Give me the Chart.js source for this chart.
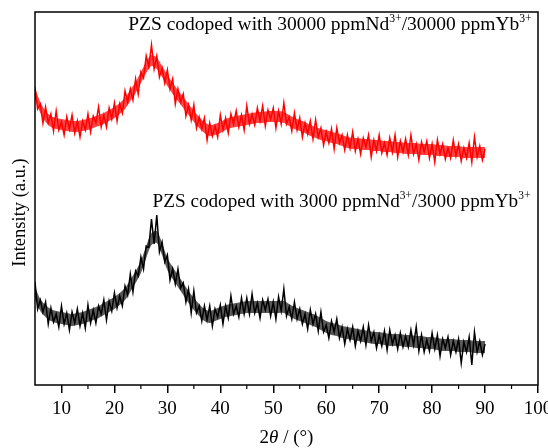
<!DOCTYPE html>
<html>
<head>
<meta charset="utf-8">
<script src="https://cdn.jsdelivr.net/npm/chart.js@4/dist/chart.umd.min.js"></script>
<style>
  html, body { margin: 0; padding: 0; background: #fff; }
  #wrap { width: 548px; height: 448px; }
</style>
</head>
<body>
<div id="wrap"><canvas id="xrd"></canvas></div>
<script>
// 2θ sampling (degrees), 0.5° apart
const twoTheta = [
  5, 5.5, 6, 6.5, 7, 7.5, 8, 8.5, 9, 9.5, 10, 10.5, 11, 11.5, 12, 12.5, 13, 13.5, 14, 14.5,
  15, 15.5, 16, 16.5, 17, 17.5, 18, 18.5, 19, 19.5, 20, 20.5, 21, 21.5, 22, 22.5, 23, 23.5, 24, 24.5,
  25, 25.5, 26, 26.5, 27, 27.5, 28, 28.5, 29, 29.5, 30, 30.5, 31, 31.5, 32, 32.5, 33, 33.5, 34, 34.5,
  35, 35.5, 36, 36.5, 37, 37.5, 38, 38.5, 39, 39.5, 40, 40.5, 41, 41.5, 42, 42.5, 43, 43.5, 44, 44.5,
  45, 45.5, 46, 46.5, 47, 47.5, 48, 48.5, 49, 49.5, 50, 50.5, 51, 51.5, 52, 52.5, 53, 53.5, 54, 54.5,
  55, 55.5, 56, 56.5, 57, 57.5, 58, 58.5, 59, 59.5, 60, 60.5, 61, 61.5, 62, 62.5, 63, 63.5, 64, 64.5,
  65, 65.5, 66, 66.5, 67, 67.5, 68, 68.5, 69, 69.5, 70, 70.5, 71, 71.5, 72, 72.5, 73, 73.5, 74, 74.5,
  75, 75.5, 76, 76.5, 77, 77.5, 78, 78.5, 79, 79.5, 80, 80.5, 81, 81.5, 82, 82.5, 83, 83.5, 84, 84.5,
  85, 85.5, 86, 86.5, 87, 87.5, 88, 88.5, 89, 89.5, 90
];

// 30000 ppm Nd/Yb (red, offset upward) - spiky trace
const high30000 = [
  298, 276, 281, 262, 278, 262, 271, 254, 274, 255, 263, 250, 268, 256, 270, 252, 264, 248, 264, 255,
  271, 253, 269, 262, 278, 258, 270, 258, 277, 266, 282, 264, 281, 272, 294, 283, 296, 285, 306, 291,
  313, 307, 329, 318, 340, 316, 329, 308, 317, 302, 315, 296, 306, 281, 296, 283, 291, 269, 280, 265,
  280, 257, 268, 256, 267, 245, 262, 249, 259, 248, 270, 255, 267, 252, 271, 261, 274, 258, 270, 255,
  279, 261, 271, 260, 277, 264, 279, 259, 275, 266, 277, 257, 274, 261, 282, 261, 268, 254, 272, 255,
  267, 248, 262, 251, 264, 246, 265, 248, 257, 240, 253, 242, 256, 236, 257, 242, 250, 235, 250, 237,
  253, 234, 246, 231, 247, 238, 250, 228, 245, 234, 250, 232, 242, 230, 247, 233, 250, 228, 244, 233,
  246, 230, 250, 231, 241, 225, 243, 233, 244, 227, 241, 223, 245, 231, 241, 226, 237, 227, 245, 229,
  241, 224, 237, 227, 242, 223, 248, 228, 239, 225, 236
];

// 3000 ppm Nd/Yb (black) - spiky trace
const low3000 = [
  103, 76, 85, 73, 83, 61, 77, 63, 71, 58, 79, 61, 72, 55, 73, 62, 76, 59, 72, 57,
  80, 62, 75, 62, 79, 71, 85, 65, 84, 74, 92, 77, 89, 79, 99, 90, 111, 93, 114, 109,
  128, 116, 139, 138, 166, 141, 170, 133, 143, 123, 130, 105, 116, 101, 116, 97, 102, 83, 96, 72,
  94, 72, 79, 64, 79, 65, 79, 59, 76, 68, 80, 61, 79, 67, 89, 71, 79, 68, 87, 71,
  87, 71, 91, 72, 82, 67, 85, 75, 86, 69, 83, 66, 88, 74, 96, 69, 78, 66, 83, 66,
  76, 61, 71, 56, 75, 61, 71, 54, 73, 53, 60, 47, 64, 53, 66, 47, 58, 41, 56, 45,
  58, 39, 54, 44, 58, 40, 60, 44, 53, 37, 50, 39, 54, 35, 55, 41, 50, 36, 52, 38,
  49, 38, 55, 40, 58, 34, 50, 33, 45, 34, 52, 36, 50, 29, 46, 37, 48, 30, 44, 33,
  46, 22, 43, 33, 48, 20, 53, 33, 44, 30, 41
];

// dense core of each noisy trace, read every 1°
const bandTheta = [
  5, 6, 7, 8, 9, 10, 11, 12, 13, 14, 15, 16, 17, 18, 19, 20, 21, 22, 23, 24,
  25, 26, 27, 28, 29, 30, 31, 32, 33, 34, 35, 36, 37, 38, 39, 40, 41, 42, 43, 44,
  45, 46, 47, 48, 49, 50, 51, 52, 53, 54, 55, 56, 57, 58, 59, 60, 61, 62, 63, 64,
  65, 66, 67, 68, 69, 70, 71, 72, 73, 74, 75, 76, 77, 78, 79, 80, 81, 82, 83, 84,
  85, 86, 87, 88, 89, 90
];
const highCoreTop = [
  297, 283, 274, 269, 267, 266, 265, 264, 264, 265, 266, 268, 270, 272, 275, 278, 282, 287, 295, 303,
  313, 323, 330, 327, 319, 310, 302, 295, 288, 281, 274, 268, 263, 260, 261, 263, 266, 268, 269, 270,
  271, 272, 273, 273, 274, 274, 274, 273, 270, 267, 265, 263, 260, 258, 256, 255, 253, 252, 250, 248,
  247, 247, 246, 246, 245, 245, 244, 244, 243, 243, 242, 242, 242, 241, 241, 241, 240, 240, 239, 239,
  239, 238, 238, 238, 238, 238
];
const highCoreBottom = [
  286, 272, 263, 258, 256, 255, 254, 253, 253, 254, 255, 257, 259, 261, 264, 267, 271, 276, 284, 292,
  302, 312, 319, 316, 308, 299, 291, 284, 277, 270, 263, 257, 252, 249, 250, 252, 255, 257, 258, 259,
  260, 261, 262, 262, 263, 263, 263, 262, 259, 256, 254, 252, 249, 247, 245, 244, 242, 241, 239, 237,
  236, 236, 235, 235, 234, 234, 233, 233, 232, 232, 231, 231, 231, 230, 230, 230, 229, 229, 228, 228,
  228, 227, 227, 227, 227, 227
];
const lowCoreTop = [
  98, 86, 80, 76, 74, 73, 72, 71, 72, 73, 75, 77, 79, 82, 85, 88, 92, 97, 105, 114,
  124, 139, 152, 154, 142, 127, 118, 110, 102, 94, 87, 81, 76, 74, 76, 78, 80, 81, 82, 83,
  84, 84, 84, 84, 84, 84, 84, 84, 81, 78, 76, 74, 72, 70, 67, 64, 62, 61, 59, 58,
  57, 56, 55, 54, 53, 53, 52, 51, 51, 51, 50, 50, 49, 49, 48, 48, 47, 46, 46, 46,
  45, 45, 45, 44, 44, 44
];
const lowCoreBottom = [
  86, 74, 68, 64, 62, 61, 60, 59, 60, 61, 63, 65, 67, 70, 73, 76, 80, 85, 93, 102,
  112, 127, 140, 142, 130, 115, 106, 98, 90, 82, 75, 69, 64, 62, 64, 66, 68, 69, 70, 71,
  72, 72, 72, 72, 72, 72, 72, 72, 69, 66, 64, 62, 60, 58, 55, 52, 50, 49, 47, 46,
  45, 44, 43, 42, 41, 41, 40, 39, 39, 39, 38, 38, 37, 37, 36, 36, 35, 34, 34, 34,
  33, 33, 33, 32, 32, 32
];

const xTicks = [10, 20, 30, 40, 50, 60, 70, 80, 90, 100];
const xMinorTicks = [15, 25, 35, 45, 55, 65, 75, 85, 95];

const SERIF = '"Liberation Serif", "Times New Roman", serif';

// label text pieces: [text, isSuperscript]
const labelHigh = [['PZS codoped with 30000 ppmNd', false], ['3+', true], ['/30000 ppmYb', false], ['3+', true]];
const labelLow = [['PZS codoped with 3000 ppmNd', false], ['3+', true], ['/3000 ppmYb', false], ['3+', true]];
// anchor of each label in data units (2θ, intensity at baseline)
const labelHighAt = [22.6, 355];
const labelLowAt = [27.2, 178];

function drawRich(ctx, x, y, parts, size) {
  ctx.textBaseline = 'alphabetic';
  ctx.textAlign = 'left';
  for (const [t, sup] of parts) {
    ctx.font = (sup ? (size * 0.6).toFixed(1) : size) + 'px ' + SERIF;
    ctx.fillText(t, x, sup ? y - size * 0.42 : y);
    x += ctx.measureText(t).width;
  }
}

const framePlugin = {
  id: 'frame',
  afterDraw(chart) {
    const { ctx, chartArea: a, scales } = chart;
    ctx.save();
    ctx.strokeStyle = '#000';
    ctx.lineWidth = 1.5;
    ctx.strokeRect(a.left, a.top, a.right - a.left, a.bottom - a.top);

    // minor ticks
    ctx.lineWidth = 1.2;
    ctx.beginPath();
    xMinorTicks.forEach(v => {
      const px = scales.x.getPixelForValue(v);
      ctx.moveTo(px, a.bottom);
      ctx.lineTo(px, a.bottom + 4);
    });
    ctx.stroke();

    ctx.fillStyle = '#000';
    drawRich(ctx, scales.x.getPixelForValue(labelHighAt[0]), scales.y.getPixelForValue(labelHighAt[1]), labelHigh, 19.5);
    drawRich(ctx, scales.x.getPixelForValue(labelLowAt[0]), scales.y.getPixelForValue(labelLowAt[1]), labelLow, 19.2);

    // x title: 2θ / (°)
    const tParts = [['2', false], ['θ', true], [' / (°)', false]];
    let w = 0;
    tParts.forEach(([t, it]) => {
      ctx.font = (it ? 'italic ' : '') + '19px ' + SERIF;
      w += ctx.measureText(t).width;
    });
    let tx = (a.left + a.right) / 2 - w / 2;
    ctx.textBaseline = 'alphabetic';
    tParts.forEach(([t, it]) => {
      ctx.font = (it ? 'italic ' : '') + '19px ' + SERIF;
      ctx.fillText(t, tx, 443);
      tx += ctx.measureText(t).width;
    });

    // y title
    ctx.translate(20, (a.top + a.bottom) / 2 + 14);
    ctx.rotate(-Math.PI / 2);
    ctx.font = '18.5px ' + SERIF;
    ctx.textAlign = 'center';
    ctx.textBaseline = 'middle';
    ctx.fillText('Intensity (a.u.)', 0, 0);
    ctx.restore();
  }
};

const toPoints = (xs, ys) => xs.map((x, i) => ({ x, y: ys[i] }));

const trace = (label, xs, ys, color) => ({
  label, data: toPoints(xs, ys), borderColor: color, borderWidth: 1.5, pointRadius: 0, tension: 0, fill: false,
});
const coreTop = (xs, ys) => ({
  data: toPoints(xs, ys), borderWidth: 0, pointRadius: 0, tension: 0.3, fill: false,
});
const coreBottom = (xs, ys, color) => ({
  data: toPoints(xs, ys), borderWidth: 0, pointRadius: 0, tension: 0.3, fill: '-1', backgroundColor: color,
});

new Chart(document.getElementById('xrd'), {
  type: 'line',
  data: {
    datasets: [
      coreTop(bandTheta, highCoreTop),
      coreBottom(bandTheta, highCoreBottom, 'rgba(255,0,0,0.72)'),
      coreTop(bandTheta, lowCoreTop),
      coreBottom(bandTheta, lowCoreBottom, 'rgba(0,0,0,0.65)'),
      trace('30000 ppm', twoTheta, high30000, '#ff0000'),
      trace('3000 ppm', twoTheta, low3000, '#000000'),
    ],
  },
  options: {
    responsive: true,
    maintainAspectRatio: false,
    animation: false,
    layout: { padding: { top: 12, right: 10, left: 0, bottom: 0 } },
    plugins: { legend: { display: false }, tooltip: { enabled: false } },
    scales: {
      x: {
        type: 'linear',
        min: 5,
        max: 100,
        afterBuildTicks(scale) { scale.ticks = xTicks.map(v => ({ value: v })); },
        afterFit(scale) { scale.height = 63; scale.paddingRight = 0; scale.paddingLeft = 0; },
        ticks: { color: '#000', font: { family: SERIF, size: 19 }, padding: 5, maxRotation: 0 },
        grid: { display: true, drawOnChartArea: false, drawTicks: true, tickLength: 8, color: '#000', lineWidth: 1.5 },
        border: { display: false },
      },
      y: {
        min: 0,
        max: 373,
        afterFit(scale) { scale.width = 35; },
        ticks: { display: false },
        grid: { display: false, drawTicks: false },
        border: { display: false },
      },
    },
  },
  plugins: [framePlugin],
});
</script>
</body>
</html>
